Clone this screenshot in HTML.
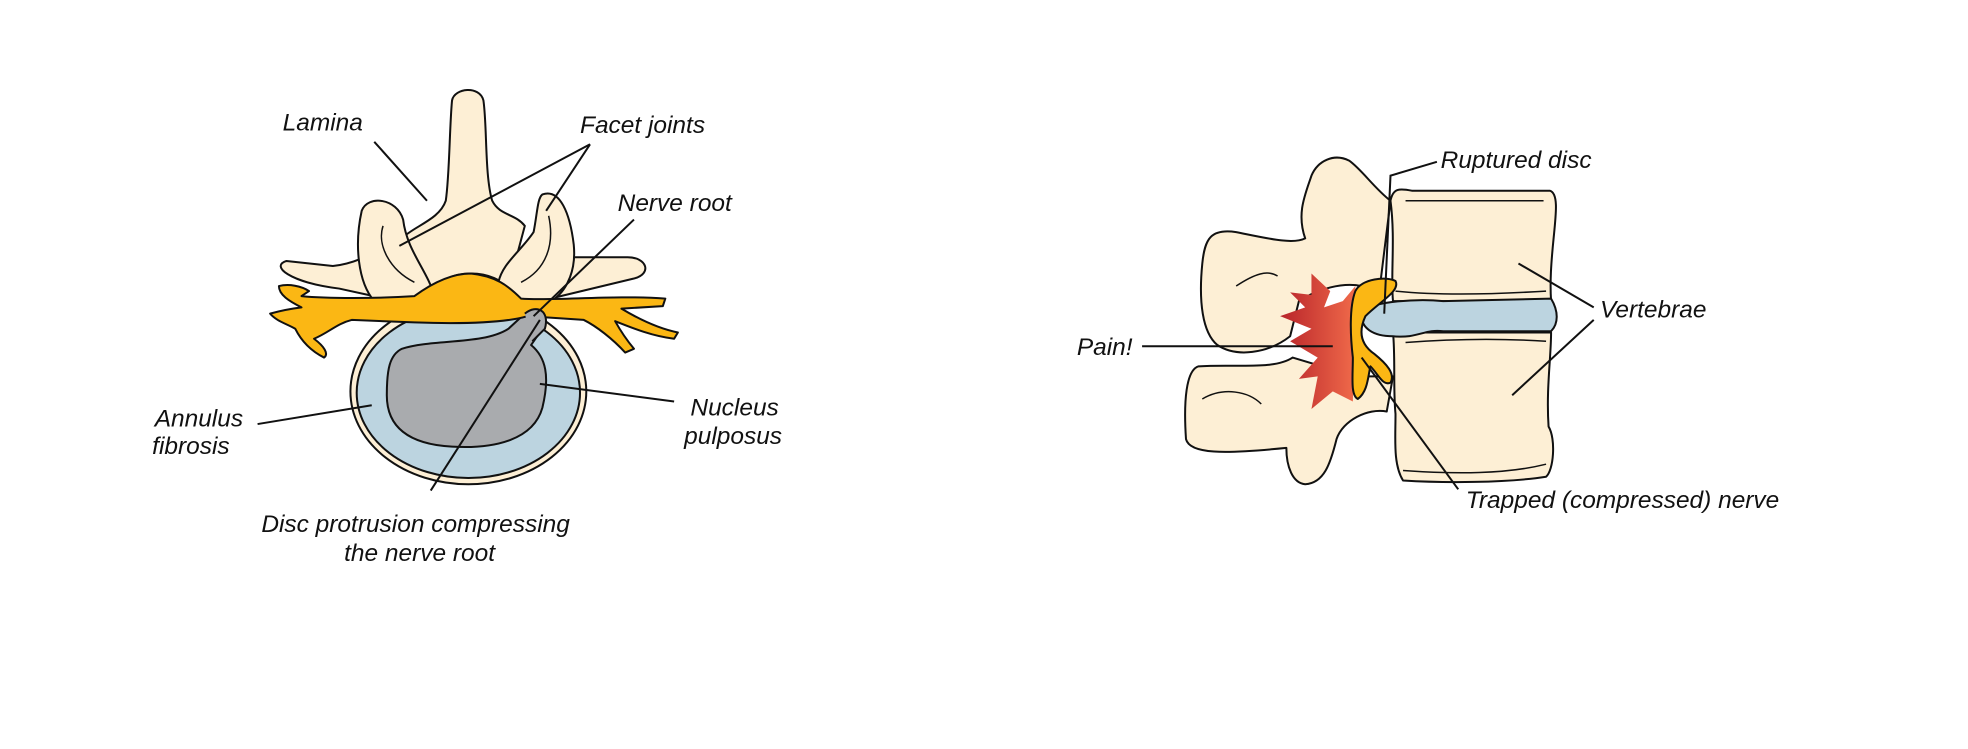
<!DOCTYPE html>
<html><head><style>
html,body{margin:0;padding:0;background:#fff;}
svg{display:block;}
text{font-family:"Liberation Sans",sans-serif;font-style:italic;font-size:19.5px;fill:#111;}
</style></head><body>
<svg width="1968" height="749" viewBox="0 0 1568 597" xmlns="http://www.w3.org/2000/svg">
<defs>
<linearGradient id="pg" x1="0" x2="1" y1="0" y2="0">
<stop offset="0" stop-color="#b8242a"/><stop offset="1" stop-color="#f06a4a"/>
</linearGradient>
</defs>
<g stroke="#111" stroke-width="1.6" stroke-linejoin="round">
<ellipse cx="373" cy="312" rx="94" ry="74" fill="#fdefd5"/>
<ellipse cx="373" cy="313" rx="89" ry="68" fill="#bcd4e0"/>
<path d="M320,278 C345,270 385,275 405,262 L418,250 C430,245 438,252 432,262 L423,275 C435,285 438,300 432,325 C425,350 395,358 360,356 C325,354 308,340 308,315 C308,295 310,283 320,278 Z" fill="#a9abae"/>
<path d="M360,80 C362,70 382,68 385,80 C388,100 386,140 392,160 C398,172 410,170 418,180 L410,210 C420,215 440,210 450,205 L500,205 C515,205 520,218 505,222 L430,240 L410,232 C400,225 392,218 375,218 C358,218 350,225 340,235 L325,242 L270,230 C230,225 215,212 228,208 L265,212 C285,210 300,200 320,190 C330,180 350,175 355,160 C358,140 358,100 360,80 Z" fill="#fdefd5"/>
<path d="M288,168 C293,155 316,158 321,175 C324,200 340,215 346,236 C340,246 315,246 298,240 C285,225 282,195 288,168 Z" fill="#fdefd5"/>
<path d="M305,180 C300,195 310,215 330,225" fill="none" stroke-width="1.2"/>
<path d="M432,155 C446,150 454,170 457,195 C459,215 452,230 442,238 C425,243 404,240 397,225 C400,210 415,200 425,185 C428,170 428,158 432,155 Z" fill="#fdefd5"/>
<path d="M437,172 C442,195 435,215 415,225" fill="none" stroke-width="1.2"/>
<path d="M222,228 C230,226 240,228 246,232 L240,236 C260,238 300,238 330,236 C345,225 360,218 375,218 C395,220 405,228 415,238 C440,240 490,235 530,238 L528,244 L495,246 C510,255 525,262 540,265 L537,270 C520,268 505,262 490,256 C495,265 500,272 505,278 L498,281 C488,270 475,260 465,255 L420,252 C400,258 360,258 330,257 L280,255 C268,258 262,265 250,270 C258,276 262,282 258,285 C248,280 240,272 235,262 C228,258 220,256 215,250 C222,248 232,246 240,245 C230,240 222,235 222,228 Z" fill="#fbb714"/>
<path d="M418,250 C428,242 438,248 434,262 L424,272" fill="#a9abae"/>
<path d="M1108,160 C1095,150 1085,135 1075,128 C1063,122 1050,128 1045,140 C1040,155 1033,170 1040,190 C1030,195 1010,190 985,185 C965,182 960,190 958,210 C955,240 958,265 970,275 C985,285 1010,282 1028,268 L1035,240 C1050,230 1070,225 1085,228 L1100,225 L1108,160 Z" fill="#fdefd5"/>
<path d="M1030,285 C1015,295 985,290 955,292 C945,295 943,320 945,350 C948,362 975,362 1025,357 C1025,372 1030,385 1040,386 C1055,385 1060,370 1065,350 C1070,335 1090,325 1105,328 L1110,300 L1080,300 L1030,285 Z" fill="#fdefd5"/>
<path d="M985,228 C1000,218 1010,215 1018,220" fill="none" stroke-width="1.2"/>
<path d="M958,318 C975,308 995,312 1005,322" fill="none" stroke-width="1.2"/>
<path d="M1108,160 C1110,150 1115,150 1125,152 L1235,152 C1242,154 1240,170 1238,190 C1236,210 1235,225 1236,240 L1110,240 C1108,220 1112,190 1108,160 Z" fill="#fdefd5"/>
<path d="M1120,160 L1230,160" fill="none" stroke-width="1.2"/>
<path d="M1112,232 C1150,236 1200,234 1232,232" fill="none" stroke-width="1.2"/>
<path d="M1110,265 L1236,265 C1236,285 1232,310 1234,340 C1240,350 1238,375 1232,380 C1200,385 1150,385 1118,383 C1110,370 1112,350 1112,330 C1110,310 1112,285 1110,265 Z" fill="#fdefd5"/>
<path d="M1120,273 C1160,270 1200,270 1232,272" fill="none" stroke-width="1.2"/>
<path d="M1118,375 C1160,378 1200,378 1232,370" fill="none" stroke-width="1.2"/>
<path d="M1085,248 C1095,240 1130,238 1150,240 L1236,238 C1242,248 1242,258 1236,264 L1150,264 C1135,262 1130,270 1110,268 C1095,268 1083,262 1085,248 Z" fill="#bcd4e0"/>
<path d="M1045,218 L1060,232 L1055,245 L1070,240 L1080,228 L1078,320 L1062,312 L1045,326 L1050,300 L1035,302 L1050,285 L1028,272 L1045,262 L1020,252 L1040,245 L1028,233 L1045,235 Z" fill="url(#pg)" stroke="none"/>
<path d="M1080,232 C1085,222 1105,220 1112,224 C1116,232 1100,240 1088,252 C1082,265 1085,275 1095,282 C1105,290 1112,298 1108,305 C1102,308 1098,298 1092,292 C1090,300 1090,312 1082,318 C1076,315 1078,300 1078,285 C1076,268 1075,245 1080,232 Z" fill="#fbb714"/>
</g>
<g stroke="#111" stroke-width="1.6" fill="none">
<path d="M298,113 L340,160"/>
<path d="M470,115 L318,196 M470,115 L435,168"/>
<path d="M505,175 L425,252"/>
<path d="M205,338 L296,323"/>
<path d="M537,320 L430,306"/>
<path d="M343,391 L430,255"/>
<path d="M1145,129 L1108,140 L1103,250"/>
<path d="M1270,245 L1210,210 M1270,255 L1205,315"/>
<path d="M910,276 L1062,276"/>
<path d="M1162,390 L1085,285"/>
</g>
<text x="225" y="104">Lamina</text>
<text x="462" y="106">Facet joints</text>
<text x="492" y="168">Nerve root</text>
<text x="123" y="340">Annulus</text>
<text x="121" y="362">fibrosis</text>
<text x="550" y="331">Nucleus</text>
<text x="545" y="354">pulposus</text>
<text x="208" y="424">Disc protrusion compressing</text>
<text x="274" y="447">the nerve root</text>
<text x="1148" y="134">Ruptured disc</text>
<text x="1275" y="253">Vertebrae</text>
<text x="858" y="283">Pain!</text>
<text x="1168" y="405">Trapped (compressed) nerve</text>
</svg>
</body></html>
